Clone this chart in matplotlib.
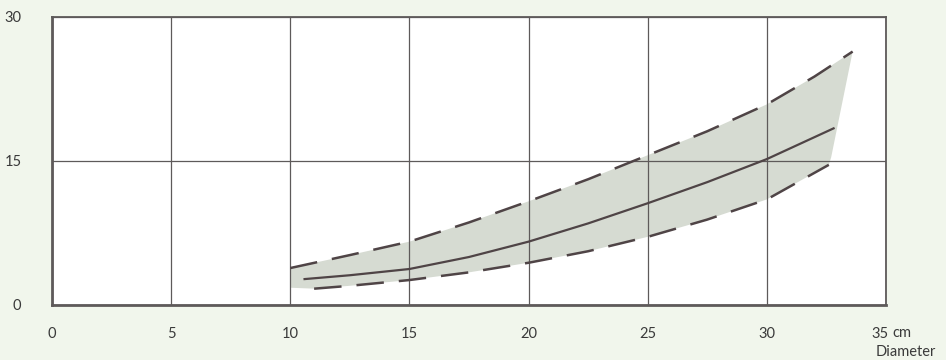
import matplotlib
matplotlib.use("Agg")
import matplotlib.pyplot as plt
import matplotlib.transforms as mtransforms

# values (diameter in cm)
upper_x = [10, 12.5, 15, 17.5, 20, 22.5, 25, 27.5, 30, 32, 33.6]
upper_y = [3.85, 5.2, 6.6, 8.6, 10.8, 13.1, 15.6, 18.1, 20.9, 23.8, 26.4]
mid_x = [10.6, 12.5, 15, 17.5, 20, 22.5, 25, 27.5, 30, 32.8]
mid_y = [2.7, 3.1, 3.75, 5.0, 6.6, 8.5, 10.6, 12.8, 15.2, 18.4]
lower_x = [11.0, 12.5, 15, 17.5, 20, 22.5, 25, 27.5, 30, 32.6]
lower_y = [1.7, 2.0, 2.6, 3.4, 4.4, 5.6, 7.1, 8.9, 11.0, 14.6]
# shaded band outline bottom edge (slightly wider than the dashed curve)
band_lo_x = [10] + lower_x + [32.7]
band_lo_y = [1.8] + lower_y + [15.4]

x_ticks = [0, 5, 10, 15, 20, 25, 30, 35]
y_ticks = [0, 15, 30]

BG = "#f1f6ec"
INK = "#4f4446"
GRID = "#5e5a5a"
TXT = "#3a3a3a"

plt.rcParams["font.family"] = ["Lato", "DejaVu Sans"]

fig = plt.figure(figsize=(9.46, 3.6), dpi=100, facecolor=BG)
ax = fig.add_axes([52 / 946, 1 - 305 / 360, 834 / 946, 288 / 360])
ax.set_facecolor("white")

ax.fill(upper_x + band_lo_x[::-1], upper_y + band_lo_y[::-1],
        color="#d6dbd2", lw=0, zorder=1)
ax.plot(upper_x, upper_y, color=INK, lw=1.8, dashes=(11, 6), zorder=3)
ax.plot(mid_x, mid_y, color=INK, lw=1.6, zorder=3)
ax.plot(lower_x, lower_y, color=INK, lw=1.8, dashes=(11, 6), zorder=3)

ax.set_xlim(0, 35)
ax.set_ylim(0, 30)
ax.set_xticks(x_ticks)
ax.set_yticks(y_ticks)
ax.grid(True, color=GRID, lw=0.9, zorder=2)
ax.set_axisbelow(False)
ax.tick_params(length=0, colors=TXT, labelsize=10.5)
ax.tick_params(axis="x", pad=16)
ax.tick_params(axis="y", pad=22)
for side, s in ax.spines.items():
    s.set_color(GRID)
    s.set_linewidth(1.3)
ax.spines["bottom"].set_linewidth(2)
ax.spines["left"].set_linewidth(2)

# "35" sits a little left of its gridline in the original
last = ax.get_xticklabels()[-1]
last.set_transform(last.get_transform() + mtransforms.ScaledTranslation(-6 / 100, 0, fig.dpi_scale_trans))

fig.text(892 / 946, 1 - 333 / 360, "cm", ha="left", va="center",
         fontsize=10.5, color=TXT)
fig.text(876 / 946, 1 - 352 / 360, "Diameter", ha="left", va="center",
         fontsize=10.5, color=TXT)

fig.savefig("out.png", dpi=100, facecolor=BG)
